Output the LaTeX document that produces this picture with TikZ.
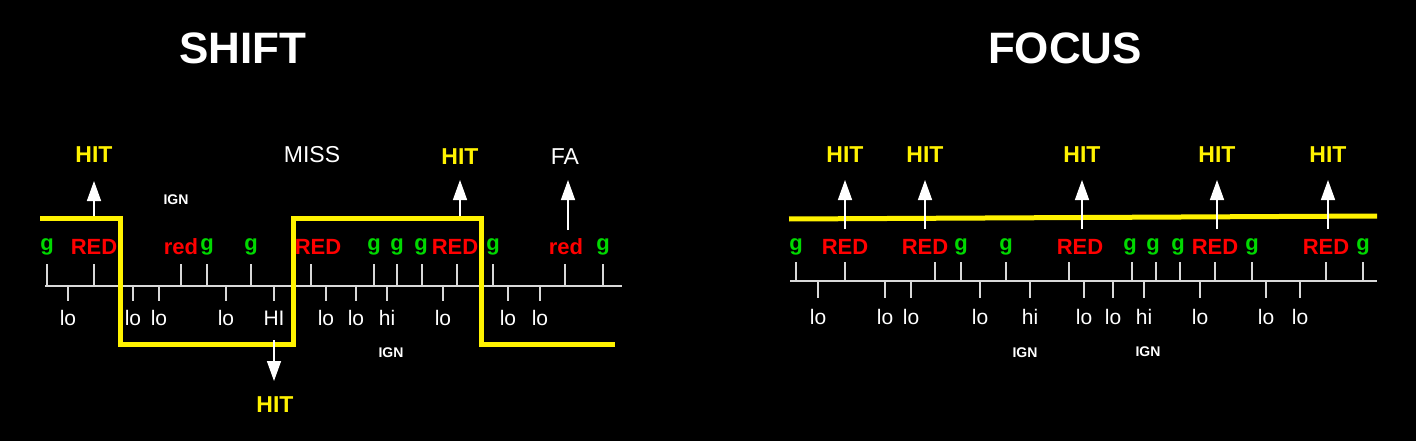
\documentclass[tikz,border=0pt]{standalone}
\usepackage{fontspec}
\setmainfont{Liberation Sans}
\usetikzlibrary{arrows.meta}
\tikzset{
  hitlbl/.style={text=yellow, font=\bfseries\fontsize{23}{23}\selectfont},
  wlbl/.style={text=white, font=\fontsize{23}{23}\selectfont},
  ignlbl/.style={text=white, font=\bfseries\fontsize{14}{14}\selectfont},
  redlbl/.style={text=red, font=\bfseries\fontsize{22}{22}\selectfont},
  glbl/.style={text=green!85!black, font=\bfseries\fontsize{22}{22}\selectfont},
  lolbl/.style={text=white, font=\fontsize{21}{21}\selectfont},
  titlelbl/.style={text=white, font=\bfseries\fontsize{44}{44}\selectfont},
  tickline/.style={white!85!black, line width=1.6pt},
  yline/.style={yellow, line width=5pt},
  uparrow/.style={white, line width=1.5pt, -{Triangle[width=14pt,length=20pt,fill=white]}},
}
\begin{document}
\begin{tikzpicture}[x=1pt, y=-1pt]
  \fill[black] (0,0) rectangle (1416,441);
  \useasboundingbox (0,0) rectangle (1416,441);
  % titles
  \node[titlelbl] (shift) at (243,48) {SHIFT};
  \node[titlelbl] (focus) at (1065,48) {FOCUS};
  % ---- SHIFT panel
  \draw[tickline] (45,286) -- (622,286);
  \foreach \x/\t/\s in {47/g/glbl, 94/RED/redlbl, 181/red/redlbl, 207/g/glbl, 251/g/glbl,
      318/RED/redlbl, 374/g/glbl, 397/g/glbl, 421/g/glbl, 455/RED/redlbl, 493/g/glbl,
      566/red/redlbl, 603/g/glbl} {
    \node[\s] (sa\x) at (\x,247) {\t};
  }
  \foreach \x in {47,94,181,207,251,311,374,397,422,457,493,565,603}
    \draw[tickline] (\x,264) -- (\x,286);
  \foreach \x/\t in {68/lo, 133/lo, 159/lo, 226/lo, 274/HI, 326/lo, 356/lo, 387/hi,
      443/lo, 508/lo, 540/lo} {
    \draw[tickline] (\x,286) -- (\x,301);
    \node[lolbl] (sb\x) at (\x,318) {\t};
  }
  \draw[yline] (40,218) -- (120,218) -- (120,344) -- (293,344) -- (293,218)
    -- (481,218) -- (481,344) -- (615,344);
  \node[hitlbl] (sh1) at (94,155) {HIT};
  \node[hitlbl] (sh2) at (460,157) {HIT};
  \node[hitlbl] (sh3) at (275,405) {HIT};
  \node[wlbl] (miss) at (312,155) {MISS};
  \node[wlbl] (fa) at (565,157) {FA};
  \node[ignlbl] (sign1) at (176,200) {IGN};
  \node[ignlbl] (sign2) at (391,353) {IGN};
  \coordinate (sha1) at (94,216);
  \coordinate (shb1) at (94,181);
  \coordinate (sha2) at (460,216);
  \coordinate (shb2) at (460,180);
  \coordinate (sha3) at (568,230);
  \coordinate (shb3) at (568,180);
  \coordinate (sha4) at (274,340);
  \coordinate (shb4) at (274,381);
  \foreach \i in {1,...,4}
    \draw[uparrow] (sha\i) -- (shb\i);
  % ---- FOCUS panel
  \draw[tickline] (790,281) -- (1377,281);
  \foreach \x/\t/\s in {796/g/glbl, 845/RED/redlbl, 925/RED/redlbl, 961/g/glbl, 1006/g/glbl,
      1080/RED/redlbl, 1130/g/glbl, 1153/g/glbl, 1178/g/glbl, 1215/RED/redlbl, 1252/g/glbl,
      1326/RED/redlbl, 1363/g/glbl} {
    \node[\s] (fa\x) at (\x,247) {\t};
  }
  \foreach \x in {796,845,935,961,1006,1069,1132,1156,1180,1215,1252,1326,1363}
    \draw[tickline] (\x,262) -- (\x,281);
  \foreach \x/\t in {818/lo, 885/lo, 911/lo, 980/lo, 1030/hi, 1084/lo, 1113/lo, 1144/hi,
      1200/lo, 1266/lo, 1300/lo} {
    \draw[tickline] (\x,281) -- (\x,298);
    \node[lolbl] (fb\x) at (\x,317) {\t};
  }
  \draw[yline] (789,219) -- (1377,216);
  \foreach \x in {845,925,1082,1217,1328} {
    \node[hitlbl] (fh\x) at (\x,155) {HIT};
    \coordinate (fha\x) at (\x,229);
    \coordinate (fhb\x) at (\x,180);
    \draw[uparrow] (fha\x) -- (fhb\x);
  }
  \node[ignlbl] (fign1) at (1025,353) {IGN};
  \node[ignlbl] (fign2) at (1148,352) {IGN};
\end{tikzpicture}
\end{document}
